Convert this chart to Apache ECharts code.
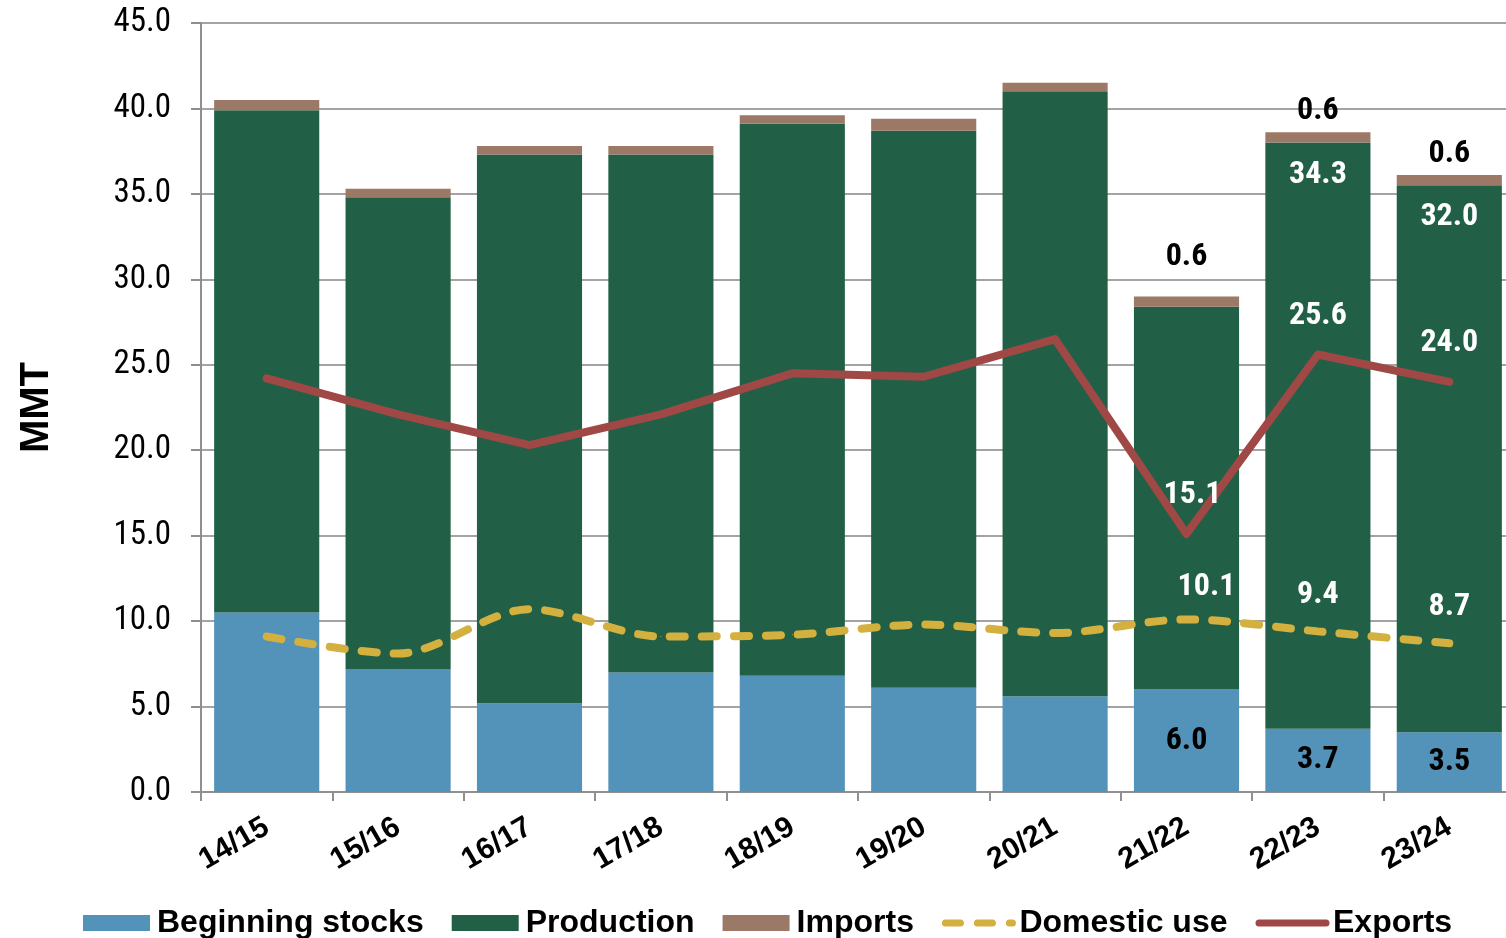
<!DOCTYPE html>
<html>
<head>
<meta charset="utf-8">
<script src="https://cdn.jsdelivr.net/npm/echarts@6/dist/echarts.min.js"></script>
<style>
  html, body { margin: 0; padding: 0; background: #fff; overflow: hidden; }
  /* the plot runs a few pixels past the right edge, as in the original */
  #chart { width: 1515px; height: 938px; }
</style>
</head>
<body>
<div id="chart"></div>
<script>
// market years
const years = ["14/15", "15/16", "16/17", "17/18", "18/19", "19/20", "20/21", "21/22", "22/23", "23/24"];

// MMT
const beginningStocks = [10.5, 7.2, 5.2, 7.0, 6.8, 6.1, 5.6, 6.0, 3.7, 3.5];
const production = [29.4, 27.6, 32.1, 30.3, 32.3, 32.6, 35.4, 22.4, 34.3, 32.0];
const imports = [0.6, 0.5, 0.5, 0.5, 0.5, 0.7, 0.5, 0.6, 0.6, 0.6];
const domesticUse = [9.1, 8.1, 10.7, 9.1, 9.2, 9.8, 9.3, 10.1, 9.4, 8.7];
const exportsData = [24.2, 22.1, 20.3, 22.1, 24.5, 24.3, 26.5, 15.1, 25.6, 24.0];

const yTicks = [0, 5, 10, 15, 20, 25, 30, 35, 40, 45];

// which points carry a value label
const stocksLabelled = [7, 8, 9];
const productionLabelled = [8, 9];
const importsLabelled = [7, 8, 9];
const domesticLabelled = [7, 8, 9];
const exportsLabelled = [7, 8, 9];

const narrow = "'Liberation Sans Narrow', 'Roboto Condensed', 'Arial Narrow', sans-serif";
const wide = "'Liberation Sans', Arial, sans-serif";

function withLabels(values, idx, label, offsets) {
  return values.map((v, i) => {
    if (!idx.includes(i)) return v;
    let l = Object.assign({ show: true }, label);
    if (offsets && offsets[i]) l.offset = offsets[i];
    return { value: v, label: l };
  });
}

const labelFont = {
  fontFamily: narrow,
  fontWeight: "bold",
  fontSize: 32,
  formatter: p => p.value.toFixed(1)
};

let chart = echarts.init(document.getElementById("chart"));
chart.setOption({
  animation: false,
  grid: { left: 201, top: 23, right: 0, bottom: 146, containLabel: false },
  legend: {
    left: 78,
    top: 902,
    itemWidth: 67,
    itemHeight: 16,
    itemGap: 28,
    lineStyle: { width: 7, cap: "round" },
    textStyle: { fontFamily: wide, fontWeight: "bold", fontSize: 32, color: "#000", padding: [0, 0, 0, 2] },
    data: [
      { name: "Beginning stocks", icon: "rect" },
      { name: "Production", icon: "rect" },
      { name: "Imports", icon: "rect" },
      { name: "Domestic use", itemStyle: { opacity: 0 } },
      { name: "Exports", itemStyle: { opacity: 0 } }
    ]
  },
  xAxis: {
    type: "category",
    data: years,
    boundaryGap: true,
    axisLine: { lineStyle: { color: "#8f8f8f", width: 2 } },
    axisTick: { show: true, length: 9, lineStyle: { color: "#8f8f8f", width: 2 } },
    axisLabel: {
      rotate: 30,
      margin: 33,
      fontFamily: wide,
      fontWeight: "bold",
      fontSize: 30,
      color: "#000"
    }
  },
  yAxis: {
    type: "value",
    min: yTicks[0],
    max: yTicks[yTicks.length - 1],
    interval: 5,
    name: "MMT",
    nameLocation: "middle",
    nameGap: 144,
    nameTextStyle: { fontFamily: wide, fontWeight: "bold", fontSize: 40, color: "#000" },
    axisLine: { show: true, lineStyle: { color: "#8f8f8f", width: 2 } },
    axisTick: { show: true, length: 10, lineStyle: { color: "#8f8f8f", width: 2 } },
    splitLine: { lineStyle: { color: "#a3a3a3", width: 2 } },
    axisLabel: {
      margin: 30,
      fontFamily: narrow,
      fontSize: 33,
      color: "#000",
      formatter: v => v.toFixed(1)
    }
  },
  series: [
    {
      name: "Beginning stocks",
      type: "bar",
      stack: "supply",
      barCategoryGap: "20%",
      itemStyle: { color: "#5392b9" },
      data: withLabels(beginningStocks, stocksLabelled, Object.assign({ position: "inside", color: "#000" }, labelFont))
    },
    {
      name: "Production",
      type: "bar",
      stack: "supply",
      itemStyle: { color: "#216046" },
      data: withLabels(production, productionLabelled, Object.assign({ position: "insideTop", distance: 16, color: "#fff" }, labelFont))
    },
    {
      name: "Imports",
      type: "bar",
      stack: "supply",
      itemStyle: { color: "#9c7966" },
      data: withLabels(imports, importsLabelled, Object.assign({ position: "top", distance: 5, color: "#000" }, labelFont), { 7: [0, -18] })
    },
    {
      name: "Domestic use",
      type: "line",
      smooth: 0.3,
      symbol: "circle",
      symbolSize: 1,
      z: 5,
      itemStyle: { color: "#d4b03f" },
      lineStyle: { color: "#d4b03f", width: 8, type: [15, 17], cap: "round" },
      data: withLabels(domesticUse, domesticLabelled, Object.assign({ position: "top", distance: 20, color: "#fff" }, labelFont), { 7: [20, 4] })
    },
    {
      name: "Exports",
      type: "line",
      symbol: "circle",
      symbolSize: 1,
      z: 6,
      itemStyle: { color: "#a04845" },
      lineStyle: { color: "#a04845", width: 8, cap: "round", join: "round" },
      data: withLabels(exportsData, exportsLabelled, Object.assign({ position: "top", distance: 22, color: "#fff" }, labelFont), { 7: [6, 0] })
    }
  ]
});
</script>
</body>
</html>
